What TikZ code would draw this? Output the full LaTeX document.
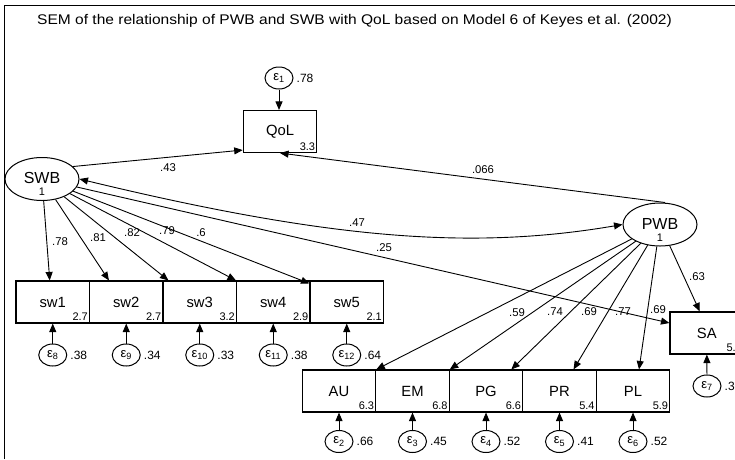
\documentclass[tikz,border=0pt]{standalone}
\usepackage{fontspec}
\setmainfont{Liberation Sans}
\usetikzlibrary{arrows.meta,shapes.geometric,calc}
\newcommand{\epsl}[1]{ε\textsubscript{#1}}
\begin{document}
\begin{tikzpicture}[x=1pt,y=-1pt,
  arr/.style={-{Triangle[length=8.5pt,width=7pt]},line width=0.9pt},
  dblarr/.style={{Triangle[length=8.5pt,width=7pt]}-{Triangle[length=8.5pt,width=7pt]},line width=0.9pt},
  obs/.style={draw,line width=1.1pt,minimum width=73.5pt,minimum height=42pt,inner sep=0pt,font=\fontsize{14.8}{15}\selectfont},
  lat/.style={draw,ellipse,line width=1pt,minimum width=74pt,minimum height=43pt,inner sep=0pt},
  err/.style={draw,ellipse,line width=1pt,minimum width=28pt,minimum height=22pt,inner sep=0pt,font=\fontsize{13}{13}\selectfont},
  val/.style={anchor=base east,inner sep=0pt,font=\fontsize{11}{11}\selectfont},
  var/.style={anchor=west,inner sep=0pt,font=\fontsize{12}{12}\selectfont},
  coef/.style={inner sep=0pt,font=\fontsize{11.3}{11.3}\selectfont},
  latname/.style={inner sep=0pt,font=\fontsize{16}{16}\selectfont},
  latval/.style={inner sep=0pt,font=\fontsize{11}{11}\selectfont},
]
\useasboundingbox (0,0) rectangle (735,459);
\draw[line width=0.8pt] (4,459) -- (4,5) -- (735,5);
\node[anchor=base west,inner sep=0pt,font=\fontsize{14}{15}\selectfont] (title) at (37,24.5)
  {\scalebox{1.11}[1]{SEM of the relationship of PWB and SWB with QoL based on Model 6 of Keyes et al. (2002)}};

% QoL
\node[obs] (QoL) at (280,131.5) {QoL};
\node[val] (QoLv) at ([xshift=-2pt,yshift=3pt]QoL.south east) {3.3};
\node[err] (e1) at (279,78) {\epsl{1}};
\node[var] (e1v) at ([xshift=3pt]e1.east) {.78};
\draw[arr] (e1) -- (e1 |- QoL.north);

% latent variables
\node[lat] (SWB) at (42,179) {};
\node[latname] (SWBn) at (42,178) {SWB};
\node[latval] (SWBv) at (42,191.5) {1};
\node[lat] (PWB) at (660,224.5) {};
\node[latname] (PWBn) at (660,224) {PWB};
\node[latval] (PWBv) at (660,238) {1};

% SWB indicators
\foreach \n/\x/\v/\e/\ev in {sw1/52.75/2.7/8/.38, sw2/126.25/2.7/9/.34, sw3/199.75/3.2/10/.33, sw4/273.25/2.9/11/.38, sw5/346.75/2.1/12/.64}{
  \node[obs] (\n) at (\x,302) {\n};
  \node[val] (\n v) at ([xshift=-2pt,yshift=3pt]\n.south east) {\v};
  \node[err] (e\e) at (\x,355) {\epsl{\e}};
  \node[var] (e\e v) at ([xshift=3pt]e\e.east) {\ev};
  \draw[arr] (e\e) -- (\n);
}

% PWB indicators
\foreach \n/\x/\v/\e/\ev in {AU/339/6.3/2/.66, EM/412.5/6.8/3/.45, PG/486/6.6/4/.52, PR/559.5/5.4/5/.41, PL/633/5.9/6/.52}{
  \node[obs] (\n) at (\x,391) {\n};
  \node[val] (\n v) at ([xshift=-2pt,yshift=3pt]\n.south east) {\v};
  \node[err] (e\e) at (\x,441.5) {\epsl{\e}};
  \node[var] (e\e v) at ([xshift=3pt]e\e.east) {\ev};
  \draw[arr] (e\e) -- (\n);
}
\node[obs] (SA) at (706.75,333) {SA};
\node[val] (SAv) at ([xshift=-2pt,yshift=3pt]SA.south east) {5.5};
\node[err] (e7) at (707,386) {\epsl{7}};
\node[var] (e7v) at ([xshift=3pt]e7.east) {.37};
\draw[arr] (e7) -- (SA);

% structural paths
\draw[arr] (SWB.22) -- ([yshift=3pt]QoL.west |- QoL.south);
\draw[arr] ([xshift=5pt]PWB.north) -- (QoL.south);
\draw[dblarr] (SWB.east) .. controls (332,240) and (473,250) .. (PWB.west);
\draw[arr] (SWB) -- ([yshift=10pt]SA.west);

% SWB loadings
\draw[arr] (SWB) -- ([xshift=-3pt]sw1.north);
\draw[arr] (SWB) -- ([xshift=20pt]sw2.north west);
\draw[arr] (SWB) -- ([xshift=6pt]sw3.north west);
\draw[arr] (SWB) -- (sw4.north west);
\draw[arr] (SWB) -- ([yshift=-3pt]sw5.north west);

% PWB loadings
\draw[arr] (PWB) -- (AU.north east);
\draw[arr] (PWB) -- (EM.north east);
\draw[arr] (PWB) -- ([xshift=-12pt]PG.north east);
\draw[arr] (PWB) -- ([xshift=14pt]PR.north);
\draw[arr] (PWB) -- ([xshift=6pt]PL.north);
\draw[arr] (PWB) -- ([xshift=-7pt]SA.north);

% coefficients
\node[coef] (c1) at (168,168) {.43};
\node[coef] (c2) at (483,170) {.066};
\node[coef] (c3) at (357,223) {.47};
\node[coef] (c4) at (384,248) {.25};
\node[coef] (c5) at (60,242) {.78};
\node[coef] (c6) at (98,238) {.81};
\node[coef] (c7) at (132,233) {.82};
\node[coef] (c8) at (167,231) {.79};
\node[coef] (c9) at (201,233) {.6};
\node[coef] (c10) at (517,313) {.59};
\node[coef] (c11) at (555,312) {.74};
\node[coef] (c12) at (589,312) {.69};
\node[coef] (c13) at (623,312) {.77};
\node[coef] (c14) at (658,310) {.69};
\node[coef] (c15) at (697,277) {.63};
\end{tikzpicture}
\end{document}
